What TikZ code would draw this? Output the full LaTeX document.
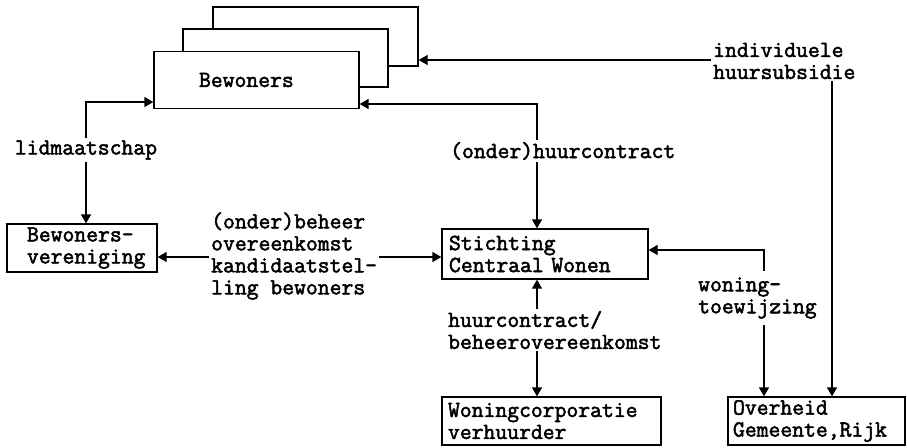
\documentclass[tikz,border=0pt]{standalone}
\usepackage{fontspec}
\newfontfamily\twfont{Latin Modern Mono}[AutoFakeBold=2.2]
\usetikzlibrary{arrows.meta,calc}
\begin{document}
\begin{tikzpicture}[x=1pt,y=-1pt,
  every node/.style={font=\fontsize{23}{22}\selectfont\twfont\bfseries},
  ln/.style={line width=1.3pt},
  arr/.style={ln,{Triangle[length=9pt,width=10pt]}-{Triangle[length=9pt,width=10pt]}},
  cbox/.style={draw,line width=1.3pt,fill=white,inner sep=0pt},
  lbox/.style={draw,line width=1.3pt,fill=white,inner ysep=0pt,align=left},
  lbl/.style={fill=white,inner sep=2pt,align=left}]
\useasboundingbox (0,0) rectangle (907,447);
% stacked Bewoners boxes
\node[cbox,minimum width=205pt,minimum height=59pt] (back) at (315.5,36.5) {};
\node[cbox,minimum width=205pt,minimum height=58pt] (mid) at (285.5,58) {};
\node[lbox,inner xsep=45pt,text width=115pt,minimum height=57pt] (front) at (256.5,80) {Bewoners};
% other boxes
\node[lbox,inner xsep=20pt,text width=110pt,minimum height=48pt] (ver) at (82,248) {Bewoners-\\vereniging};
\node[lbox,inner xsep=7pt,text width=192pt,minimum height=50pt] (sti) at (545,254) {Stichting\\Centraal Wonen};
\node[lbox,inner xsep=6pt,text width=207pt,minimum height=48pt] (woco) at (551.5,421) {Woningcorporatie\\verhuurder};
\node[lbox,inner xsep=5pt,text width=167pt,minimum height=48pt] (ovh) at (816.5,421) {Overheid\\Gemeente,Rijk};
% coordinates of bends
\coordinate (c1) at (86,102);
\coordinate (c2) at (537,104);
\coordinate (c3) at (832,60);
\coordinate (c4) at (300,257);
\coordinate (c5) at (764,250);
% connectors
\draw[arr] (c1 |- ver.north) -- (c1) -- (c1 -| front.west);
\draw[arr] (c2 -| front.east) -- (c2) -- (c2 |- sti.north);
\draw[arr] (c3 -| back.east) -- (c3) -- (c3 |- ovh.north);
\draw[arr] (c4 -| ver.east) -- (c4 -| sti.west);
\draw[arr] (c2 |- sti.south) -- (c2 |- woco.north);
\draw[arr] (c5 -| sti.east) -- (c5) -- (c5 |- ovh.north);
% labels
\node[lbl] (l1) at (86,150) {lidmaatschap};
\node[lbl,anchor=west] (l2) at (448,151) {(onder)huurcontract};
\node[lbl,anchor=west] (l3) at (711,61) {individuele\\huursubsidie};
\node[lbl,anchor=west] (l4) at (209,256) {(onder)beheer\\overeenkomst\\kandidaatstel-\\ling bewoners};
\node[lbl,anchor=west] (l5) at (446,330) {huurcontract/\\beheerovereenkomst};
\node[lbl,anchor=west,inner ysep=6pt] (l6) at (696,298) {woning-\\toewijzing};
\end{tikzpicture}
\end{document}
